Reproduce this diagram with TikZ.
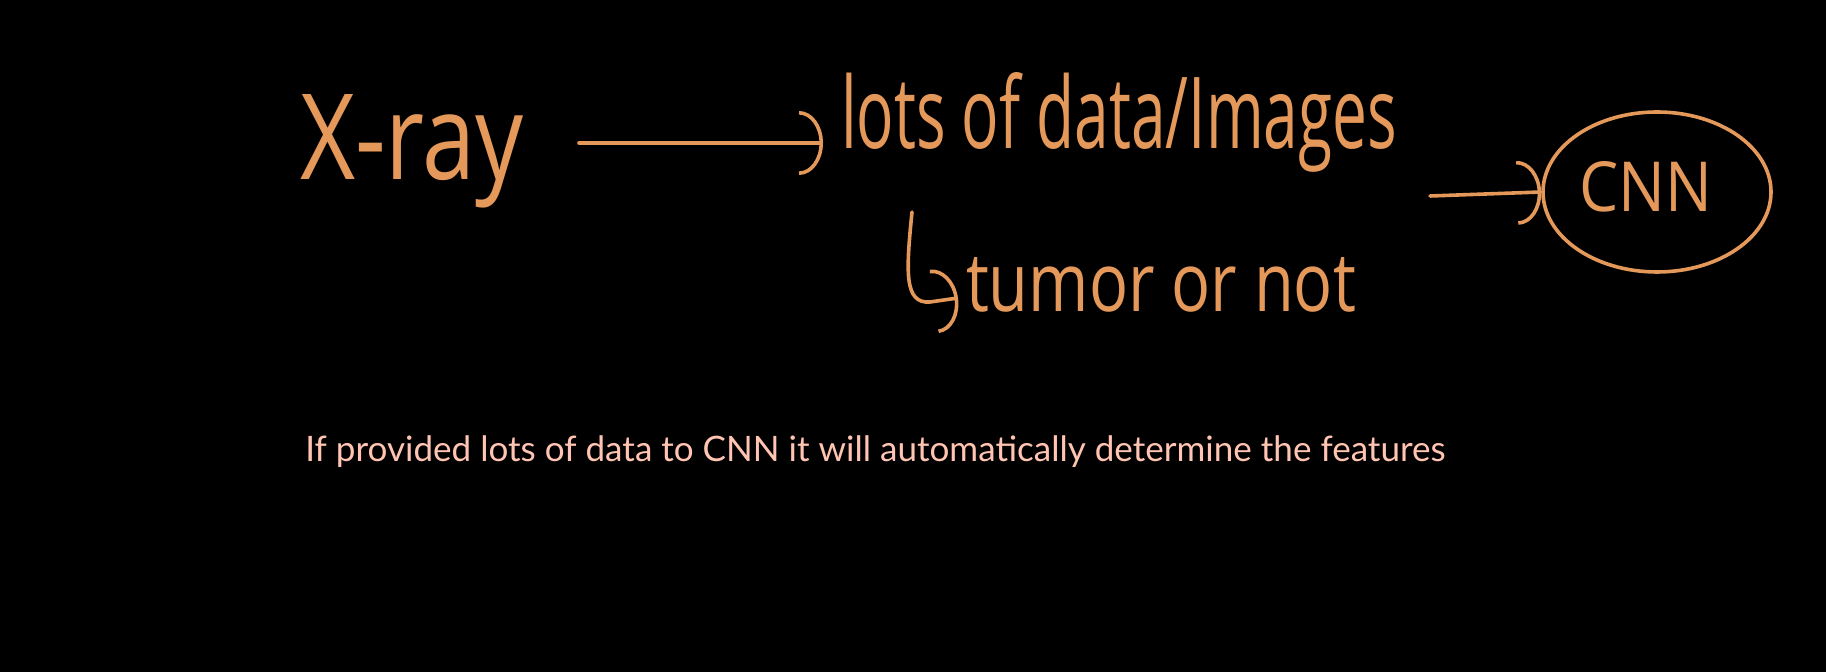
\documentclass[tikz,border=0pt]{standalone}
\usepackage{fontspec}
\usepackage{graphicx}
\setmainfont{Open Sans}
\newfontfamily\notefont{Lato}
\usetikzlibrary{arrows.meta,shapes.geometric}
\definecolor{pen}{RGB}{228,152,90}
\definecolor{note}{RGB}{255,196,178}
\tikzset{
  hw/.style={text=pen, inner sep=0pt, outer sep=0pt, font=\fontsize{40}{44}\selectfont},
  stroke/.style={draw=pen, line width=1.8pt, line cap=round, line join=round},
  arr/.style={stroke, -{Arc Barb[length=12pt,width=32pt,line width=1.8pt]}},
  notetext/.style={text=note, inner sep=0pt, font=\notefont\fontsize{17}{20}\selectfont}
}
\begin{document}
\begin{tikzpicture}[x=0.5pt,y=-0.5pt]
\path[fill=black, use as bounding box] (0,0) rectangle (1826,672);
\node[hw, anchor=base west] (xray) at (300,180) {\resizebox{112pt}{42.5pt}{X-ray}};
\node[hw, anchor=base west] (lots) at (841,149) {\resizebox{278pt}{38pt}{lots of data/Images}};
\node[hw, anchor=base west] (tumor) at (966,312) {\resizebox{195pt}{27pt}{tumor or not}};
\node[ellipse, stroke, minimum width=114pt, minimum height=80pt, inner sep=0pt] (cnn) at (1657,192) {};
\node[hw] (cnnlabel) at ([shift={(-11,-5)}]cnn.center) {\resizebox{66.5pt}{25pt}{CNN}};
\node[notetext, anchor=base west] (note) at (305,462) {\resizebox{570pt}{!}{If provided lots of data to CNN it will automatically determine the features}};
% arrows
\draw[arr] ([shift={(55,-37)}]xray.base east) -- ([shift={(-18,-6)}]lots.base west);
\draw[arr] ([shift={(33,47)}]lots.base east) -- (cnn.west);
\coordinate (hooktop) at ([shift={(71,63)}]lots.base west);
\draw[arr] (hooktop) .. controls ([shift={(-6,60)}]hooktop) and ([shift={(-8,92)}]hooktop) .. ([shift={(18,90)}]hooktop) -- ([shift={(-8,-14)}]tumor.base west);
\end{tikzpicture}
\end{document}
